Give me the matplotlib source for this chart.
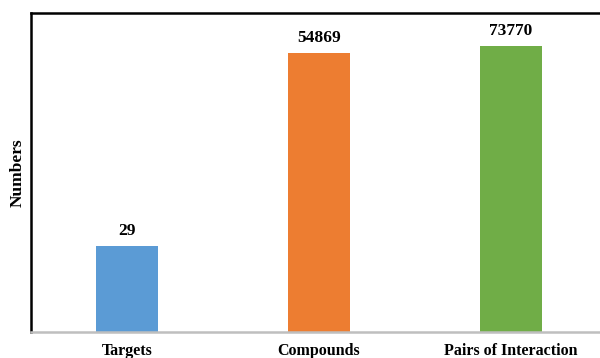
import matplotlib.pyplot as plt

# counts per category
categories = ['Targets', 'Compounds', 'Pairs of Interaction']
counts = [29, 54869, 73770]
bar_colors = ['#5B9BD5', '#ED7D31', '#70AD47']

plt.rcParams['font.family'] = ['Liberation Serif', 'DejaVu Serif']
plt.rcParams['font.weight'] = 'bold'

fig = plt.figure(figsize=(6, 3.58), dpi=100)
ax = fig.add_axes([0.0517, 0.0726, 0.96, 0.891])

bars = ax.bar(range(len(categories)), counts, width=0.32, color=bar_colors)
ax.set_yscale('log')
ax.set_ylim(1, 10 ** 5.42)
ax.set_xlim(-0.5, 2.5)

for rect, val in zip(bars, counts):
    ax.annotate(str(val), (rect.get_x() + rect.get_width() / 2, val),
                xytext=(0, 5), textcoords='offset points',
                ha='center', va='bottom', fontsize=12.5, fontweight='bold')

ax.set_xticks(range(len(categories)))
ax.set_xticklabels(categories, fontsize=11.5, fontweight='bold')
ax.tick_params(axis='x', length=0, pad=8)
ax.set_yticks([])
ax.yaxis.set_minor_locator(plt.NullLocator())
ax.set_ylabel('Numbers', fontsize=12.5, fontweight='bold', labelpad=4)

ax.spines['left'].set_linewidth(1.8)
ax.spines['top'].set_linewidth(1.8)
ax.spines['bottom'].set_color('#bfbfbf')
ax.spines['bottom'].set_linewidth(1.8)
ax.spines['right'].set_visible(False)

fig.savefig('out.png', dpi=100)
